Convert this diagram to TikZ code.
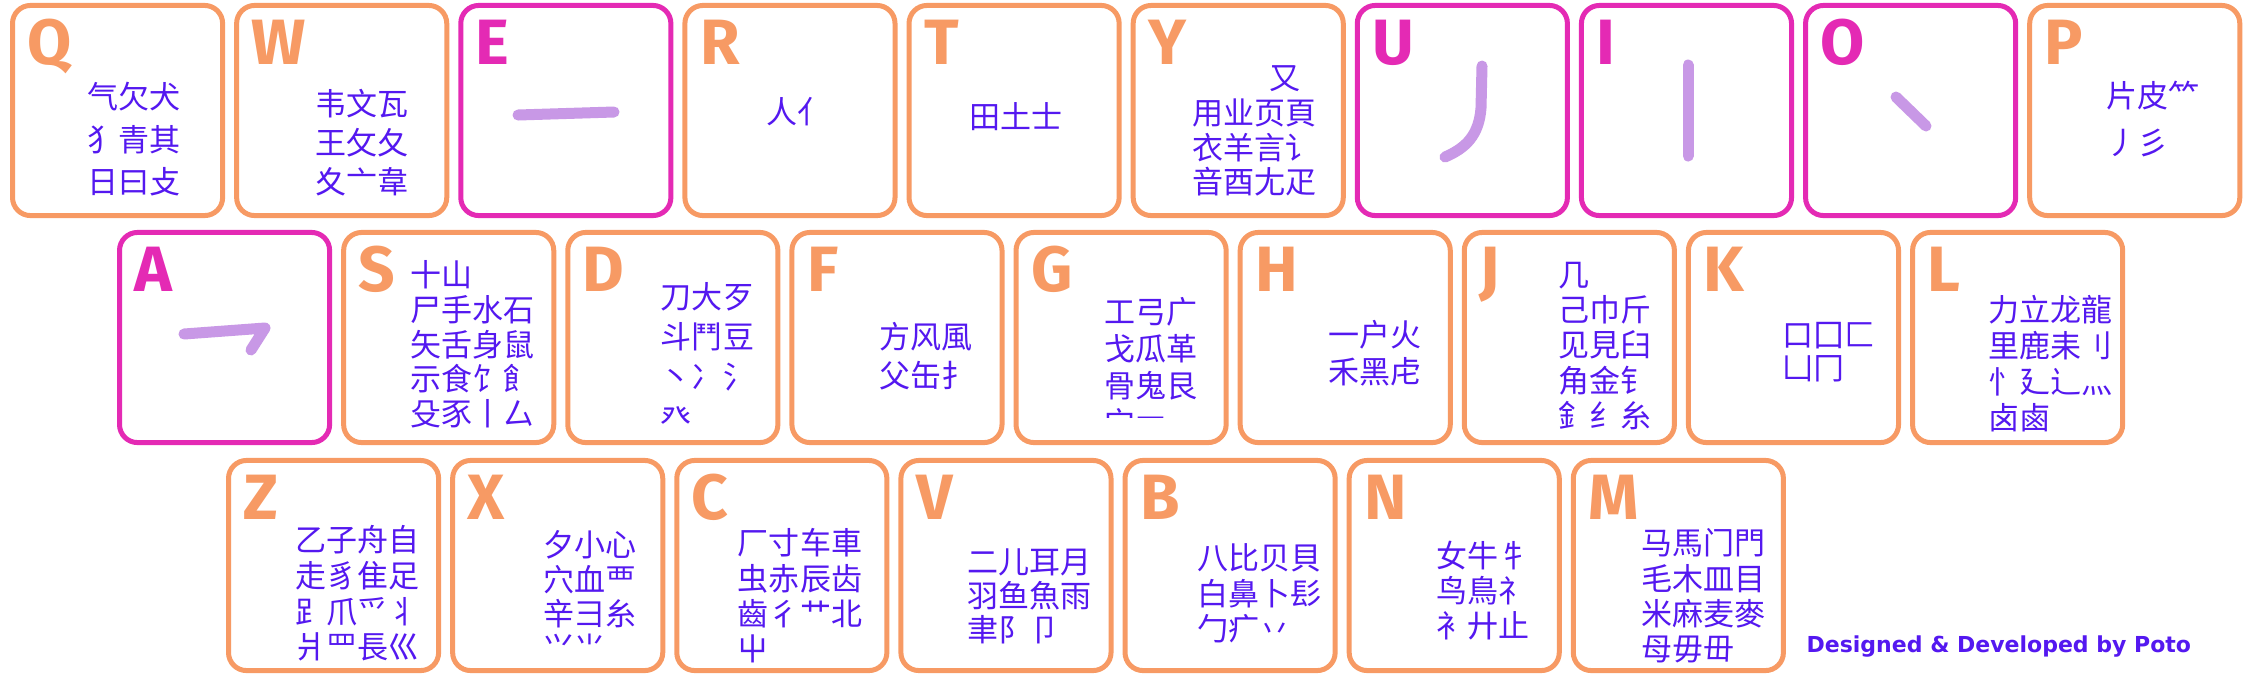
\documentclass[tikz,border=0pt]{standalone}
\usepackage{fontspec}
\newfontfamily\cjkfont{Noto Sans CJK SC}
\newfontfamily\keyfont{Fira Sans}
\newfontfamily\creditfont{DejaVu Sans}
\definecolor{KeyOrange}{RGB}{247,154,100}
\definecolor{KeyMagenta}{RGB}{228,42,180}
\definecolor{Stroke}{RGB}{200,152,230}
\definecolor{Radical}{RGB}{84,24,240}
\usetikzlibrary{positioning}

\begin{document}
\begin{tikzpicture}[x=0.01cm,y=-0.01cm,
  keybox/.style={draw=#1,fill=white,line width=0.05cm,rounded corners=0.18cm,minimum width=2.1cm,minimum height=2.1cm},
  keylabel/.style={text=#1,font=\keyfont\bfseries\fontsize{0.64cm}{0.64cm}\selectfont,anchor=base west,inner sep=0pt},
  radicals/.style={text=Radical,font=\cjkfont\fontsize{0.31cm}{#1}\selectfont,align=left,anchor=north west,inner sep=0pt},
  radicals/.default=0.35cm,
  brush/.style={draw=Stroke,line width=0.11cm,line cap=round,line join=round}]
  \useasboundingbox (0,0) rectangle (2251,678);
  % the three rows of keys
  \coordinate (r1) at (1,110.5);
  \coordinate (r2) at (108,337.5);
  \coordinate (r3) at (217,565.5);
  \foreach \k/\c [remember=\k as \prev (initially r1)] in {Q/KeyOrange,W/KeyOrange,E/KeyMagenta,R/KeyOrange,T/KeyOrange,Y/KeyOrange,U/KeyMagenta,I/KeyMagenta,O/KeyMagenta,P/KeyOrange} {
    \node[keybox=\c,right=0.09cm of \prev] (\k) {};
    \node[keylabel=\c] (lab\k) at ([shift={(17,62)}]\k.north west) {\k};
  }
  \foreach \k/\c [remember=\k as \prev (initially r2)] in {A/KeyMagenta,S/KeyOrange,D/KeyOrange,F/KeyOrange,G/KeyOrange,H/KeyOrange,J/KeyOrange,K/KeyOrange,L/KeyOrange} {
    \node[keybox=\c,right=0.09cm of \prev] (\k) {};
    \node[keylabel=\c] (lab\k) at ([shift={(17,62)}]\k.north west) {\k};
  }
  \foreach \k/\c [remember=\k as \prev (initially r3)] in {Z/KeyOrange,X/KeyOrange,C/KeyOrange,V/KeyOrange,B/KeyOrange,N/KeyOrange,M/KeyOrange} {
    \node[keybox=\c,right=0.09cm of \prev] (\k) {};
    \node[keylabel=\c] (lab\k) at ([shift={(17,62)}]\k.north west) {\k};
  }

  % basic strokes
  \draw[brush] (518,115) -- (614,112);
  \draw[brush] (1482,66) -- (1481,108) .. controls (1479,135) and (1466,148) .. (1445,157);
  \draw[brush] (1688,65) -- (1688,156);
  \draw[brush] (1896,97) -- (1926,126);
  \draw[brush] (184,334) -- (265,328) -- (251,350);

  % radicals, top row
  \node[radicals=0.42cm] (Qr) at ([shift={(77,79)}]Q.north west) {气欠犬\\犭青其\\日曰攴};
  \node[radicals=0.39cm] (Wr) at ([shift={(81,86)}]W.north west) {韦文瓦\\王攵夂\\夊亠韋};
  \node[radicals] (Rr) at ([shift={(83,94)}]R.north west) {人亻};
  \node[radicals] (Tr) at ([shift={(62,99)}]T.north west) {田土士};
  \node[radicals=0.347cm] (Yr) at ([shift={(61,62)}]Y.north west) {\hspace*{2.5em}又\\用业页頁\\衣羊言讠\\音酉尢疋};
  \node[radicals=0.47cm] (Pr) at ([shift={(79,77)}]P.north west) {片皮⺮\\丿彡};

  % radicals, middle row
  \node[radicals=0.347cm] (Sr) at ([shift={(69,30)}]S.north west) {十山\\尸手水石\\矢舌身鼠\\示食饣飠\\殳豕丨厶};
  \node[radicals=0.40cm] (Dr) at ([shift={(95,52)}]D.north west) {刀大歹\\斗鬥豆\\丶冫氵\\癶};
  \node[radicals=0.39cm] (Fr) at ([shift={(89,92)}]F.north west) {方风風\\父缶扌};
  \begin{scope}
    \clip (G.north west) rectangle ([shift={(0,-28)}]G.south east);
    \node[radicals=0.37cm] (Gr) at ([shift={(90,67)}]G.north west) {工弓广\\戈瓜革\\骨鬼艮\\宀冖};
  \end{scope}
  \node[radicals=0.37cm] (Hr) at ([shift={(90,90)}]H.north west) {一户火\\禾黑虍};
  \node[radicals] (Jr) at ([shift={(96,32)}]J.north west) {几\\己巾斤\\见見臼\\角金钅\\釒纟糸};
  \node[radicals=0.33cm] (Kr) at ([shift={(96,92)}]K.north west) {口囗匚\\凵冂};
  \node[radicals=0.357cm] (Lr) at ([shift={(78,65)}]L.north west) {力立龙龍\\里鹿耒刂\\忄廴辶灬\\卤鹵};

  % radicals, bottom row
  \node[radicals=0.357cm] (Zr) at ([shift={(69,67)}]Z.north west) {乙子舟自\\走豸隹足\\⻊爪爫丬\\爿罒長巛};
  \node[radicals=0.343cm] (Xr) at ([shift={(93,72)}]X.north west) {夕小心\\穴血覀\\辛彐糸\\⺍⺌};
  \node[radicals=0.353cm] (Cr) at ([shift={(63,70)}]C.north west) {厂寸车車\\虫赤辰齿\\齒彳艹北\\屮};
  \node[radicals=0.34cm] (Vr) at ([shift={(68,90)}]V.north west) {二儿耳月\\羽鱼魚雨\\聿阝卩};
  \node[radicals=0.355cm] (Br) at ([shift={(74,85)}]B.north west) {八比贝貝\\白鼻卜髟\\勹疒丷};
  \node[radicals] (Nr) at ([shift={(89,82)}]N.north west) {女牛牜\\鸟鳥礻\\衤廾止};
  \node[radicals=0.353cm] (Mr) at ([shift={(70,70)}]M.north west) {马馬门門\\毛木皿目\\米麻麦麥\\母毋毌};

  \node[text=Radical,font=\creditfont\bfseries\fontsize{0.22cm}{0.22cm}\selectfont,inner sep=0pt,above right=0.15cm and 0.2cm of M.south east] (credit) {Designed \& Developed by Poto};
\end{tikzpicture}
\end{document}
